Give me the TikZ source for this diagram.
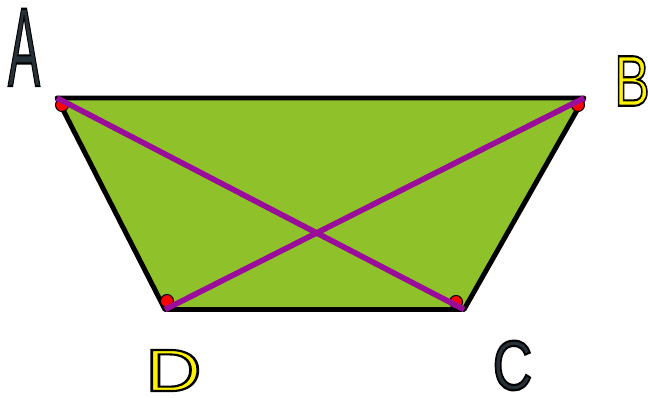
\documentclass[tikz,border=0pt]{standalone}
\usepackage{fontspec}
\setmainfont{Liberation Sans}
\usetikzlibrary{positioning}
\definecolor{trapgreen}{HTML}{8FC12A}
\definecolor{diagpurple}{HTML}{9A0C9A}
\definecolor{slategray}{HTML}{263238}
\newcommand{\outlined}[2]{{\color{#1}\special{pdf:literal direct 2 Tr 1.2 w 0 0 0 RG}#2\special{pdf:literal direct 0 Tr}}}

\begin{document}
\begin{tikzpicture}[x=0.02cm,y=-0.02cm,
  edge/.style={black,line width=2.8pt,line join=round},
  diagonal/.style={diagpurple,line width=3.2pt},
  anglemark/.style={fill=red,draw=black,line width=0.6pt},
  vertexlabel/.style={inner sep=0pt,transform shape}]
\useasboundingbox (0,0) rectangle (648,398);
\coordinate (A) at (57,98);
\coordinate (B) at (584,98);
\coordinate (C) at (464,309.5);
\coordinate (D) at (165,309.5);

\fill[trapgreen] (A) -- (B) -- (C) -- (D) -- cycle;
\draw[edge] (A) -- (B) -- (C) -- (D) -- cycle;

\filldraw[anglemark] (62,105) circle[radius=6.5];
\filldraw[anglemark] (578,105) circle[radius=6.5];
\filldraw[anglemark] (456,302) circle[radius=6.5];
\filldraw[anglemark] (167,301) circle[radius=6.5];

\draw[diagonal] (A) -- (C);
\draw[diagonal] (B) -- (D);

\node[vertexlabel,xscale=0.43] (LabelA) at (24,47.5) {\fontsize{64}{64}\selectfont\outlined{slategray}{A}};
\node[vertexlabel,xscale=0.74] (LabelB) at (632,81) {\fontsize{41}{41}\selectfont\outlined{yellow}{B}};
\node[vertexlabel,xscale=0.78] (LabelC) at (512.5,365.5) {\fontsize{40}{40}\selectfont\outlined{slategray}{C}};
\node[vertexlabel,xscale=1.3] (LabelD) at (173.5,370.5) {\fontsize{34}{34}\selectfont\outlined{yellow}{D}};
\end{tikzpicture}
\end{document}
